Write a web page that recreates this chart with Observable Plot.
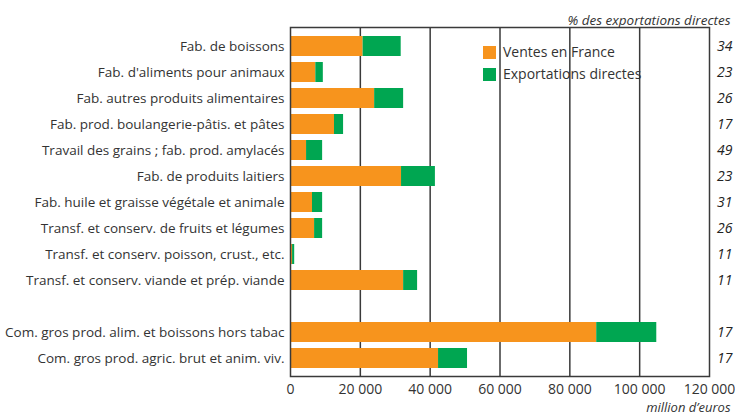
<!DOCTYPE html>
<html><head><meta charset="utf-8">
<script src="https://cdn.jsdelivr.net/npm/d3@7"></script>
<script src="https://cdn.jsdelivr.net/npm/@observablehq/plot@0.6"></script>
<style>
body{margin:0;background:#fff;font-family:"Open Sans",sans-serif;}
#wrap{position:relative;width:735px;height:417px;overflow:hidden;}
.topline{position:absolute;left:0;top:2px;width:735px;height:2px;background:#a5c870;}
.legend{position:absolute;left:483px;top:41px;font-size:14px;color:#333;line-height:22px;}
.legend div{display:flex;align-items:center;}
.legend span.sw{display:inline-block;width:13px;height:13px;margin-right:7px;}
</style></head>
<body><div id="wrap"><div class="topline"></div></div>
<script>
const categories = [
  "Fab. de boissons",
  "Fab. d'aliments pour animaux",
  "Fab. autres produits alimentaires",
  "Fab. prod. boulangerie-pâtis. et pâtes",
  "Travail des grains ; fab. prod. amylacés",
  "Fab. de produits laitiers",
  "Fab. huile et graisse végétale et animale",
  "Transf. et conserv. de fruits et légumes",
  "Transf. et conserv. poisson, crust., etc.",
  "Transf. et conserv. viande et prép. viande",
  " ",
  "Com. gros prod. alim. et boissons hors tabac",
  "Com. gros prod. agric. brut et anim. viv."
];
const ventes =  [20800, 7250, 24100, 12600, 4600, 31800, 6300, 6900, 600, 32400, null, 87700, 42400];
const exports = [10900, 2150, 8300, 2600, 4600, 9700, 2900, 2300, 600, 4000, null, 17200, 8300];
const pctLabels = ["34","23","26","17","49","23","31","26","11","11","","17","17"];
const series = ["Ventes en France", "Exportations directes"];
const colors = ["#f7941d", "#00a651"];
const xTicks = [0, 20000, 40000, 60000, 80000, 100000, 120000];
const gridTicks = [20000, 40000, 60000, 80000, 100000];

const rows = [];
categories.forEach((c, i) => {
  if (ventes[i] != null) rows.push({cat: c, series: series[0], value: ventes[i]});
  if (exports[i] != null) rows.push({cat: c, series: series[1], value: exports[i]});
});
const pct = categories.map((c, i) => ({cat: c, label: pctLabels[i]}));
const fmt = d => d3.format(",")(d).replace(/,/g, "\u00a0");

const chart = Plot.plot({
  width: 735, height: 417,
  marginLeft: 290, marginRight: 26, marginTop: 27, marginBottom: 41,
  style: {fontFamily: "Open Sans, sans-serif", fontSize: "13px", color: "#333", background: "#fff"},
  x: {domain: [0, 120000]},
  y: {domain: categories, paddingInner: 0.25, paddingOuter: 0.15},
  color: {domain: series, range: colors},
  marks: [
    Plot.ruleX(gridTicks, {stroke: "#3a3a3a", strokeWidth: 1.5}),
    Plot.barX(rows, {x: "value", y: "cat", fill: "series"}),
    Plot.frame({stroke: "#3a3a3a", strokeWidth: 1.5}),
    Plot.axisY({tickSize: 0, tickPadding: 6, label: null, fontSize: 13.5, fill: "#333"}),
    Plot.axisX({ticks: xTicks, tickFormat: fmt, tickSize: 0, tickPadding: 8, label: null, fontSize: 14, fill: "#333"}),
    Plot.text(pct, {y: "cat", text: "label", frameAnchor: "right", dx: 23, textAnchor: "end", fontStyle: "italic", fontSize: 14, fill: "#222"}),
    Plot.text(["% des exportations directes"], {frameAnchor: "top-right", dx: 21, dy: -12, textAnchor: "end", fontStyle: "italic", fontSize: 13.5, fill: "#333"}),
    Plot.text(["million d\u2019euros"], {frameAnchor: "bottom-right", dx: 21, dy: 35.5, textAnchor: "end", fontStyle: "italic", fontSize: 13, fill: "#333"})
  ]
});
const wrap = document.getElementById("wrap");
wrap.appendChild(chart);
const leg = document.createElement("div");
leg.className = "legend";
series.forEach((s, i) => {
  const d = document.createElement("div");
  d.innerHTML = `<span class="sw" style="background:${colors[i]}"></span>${s}`;
  leg.appendChild(d);
});
wrap.appendChild(leg);
chart.style.position = "absolute"; chart.style.left = "0"; chart.style.top = "0";
</script></body></html>
